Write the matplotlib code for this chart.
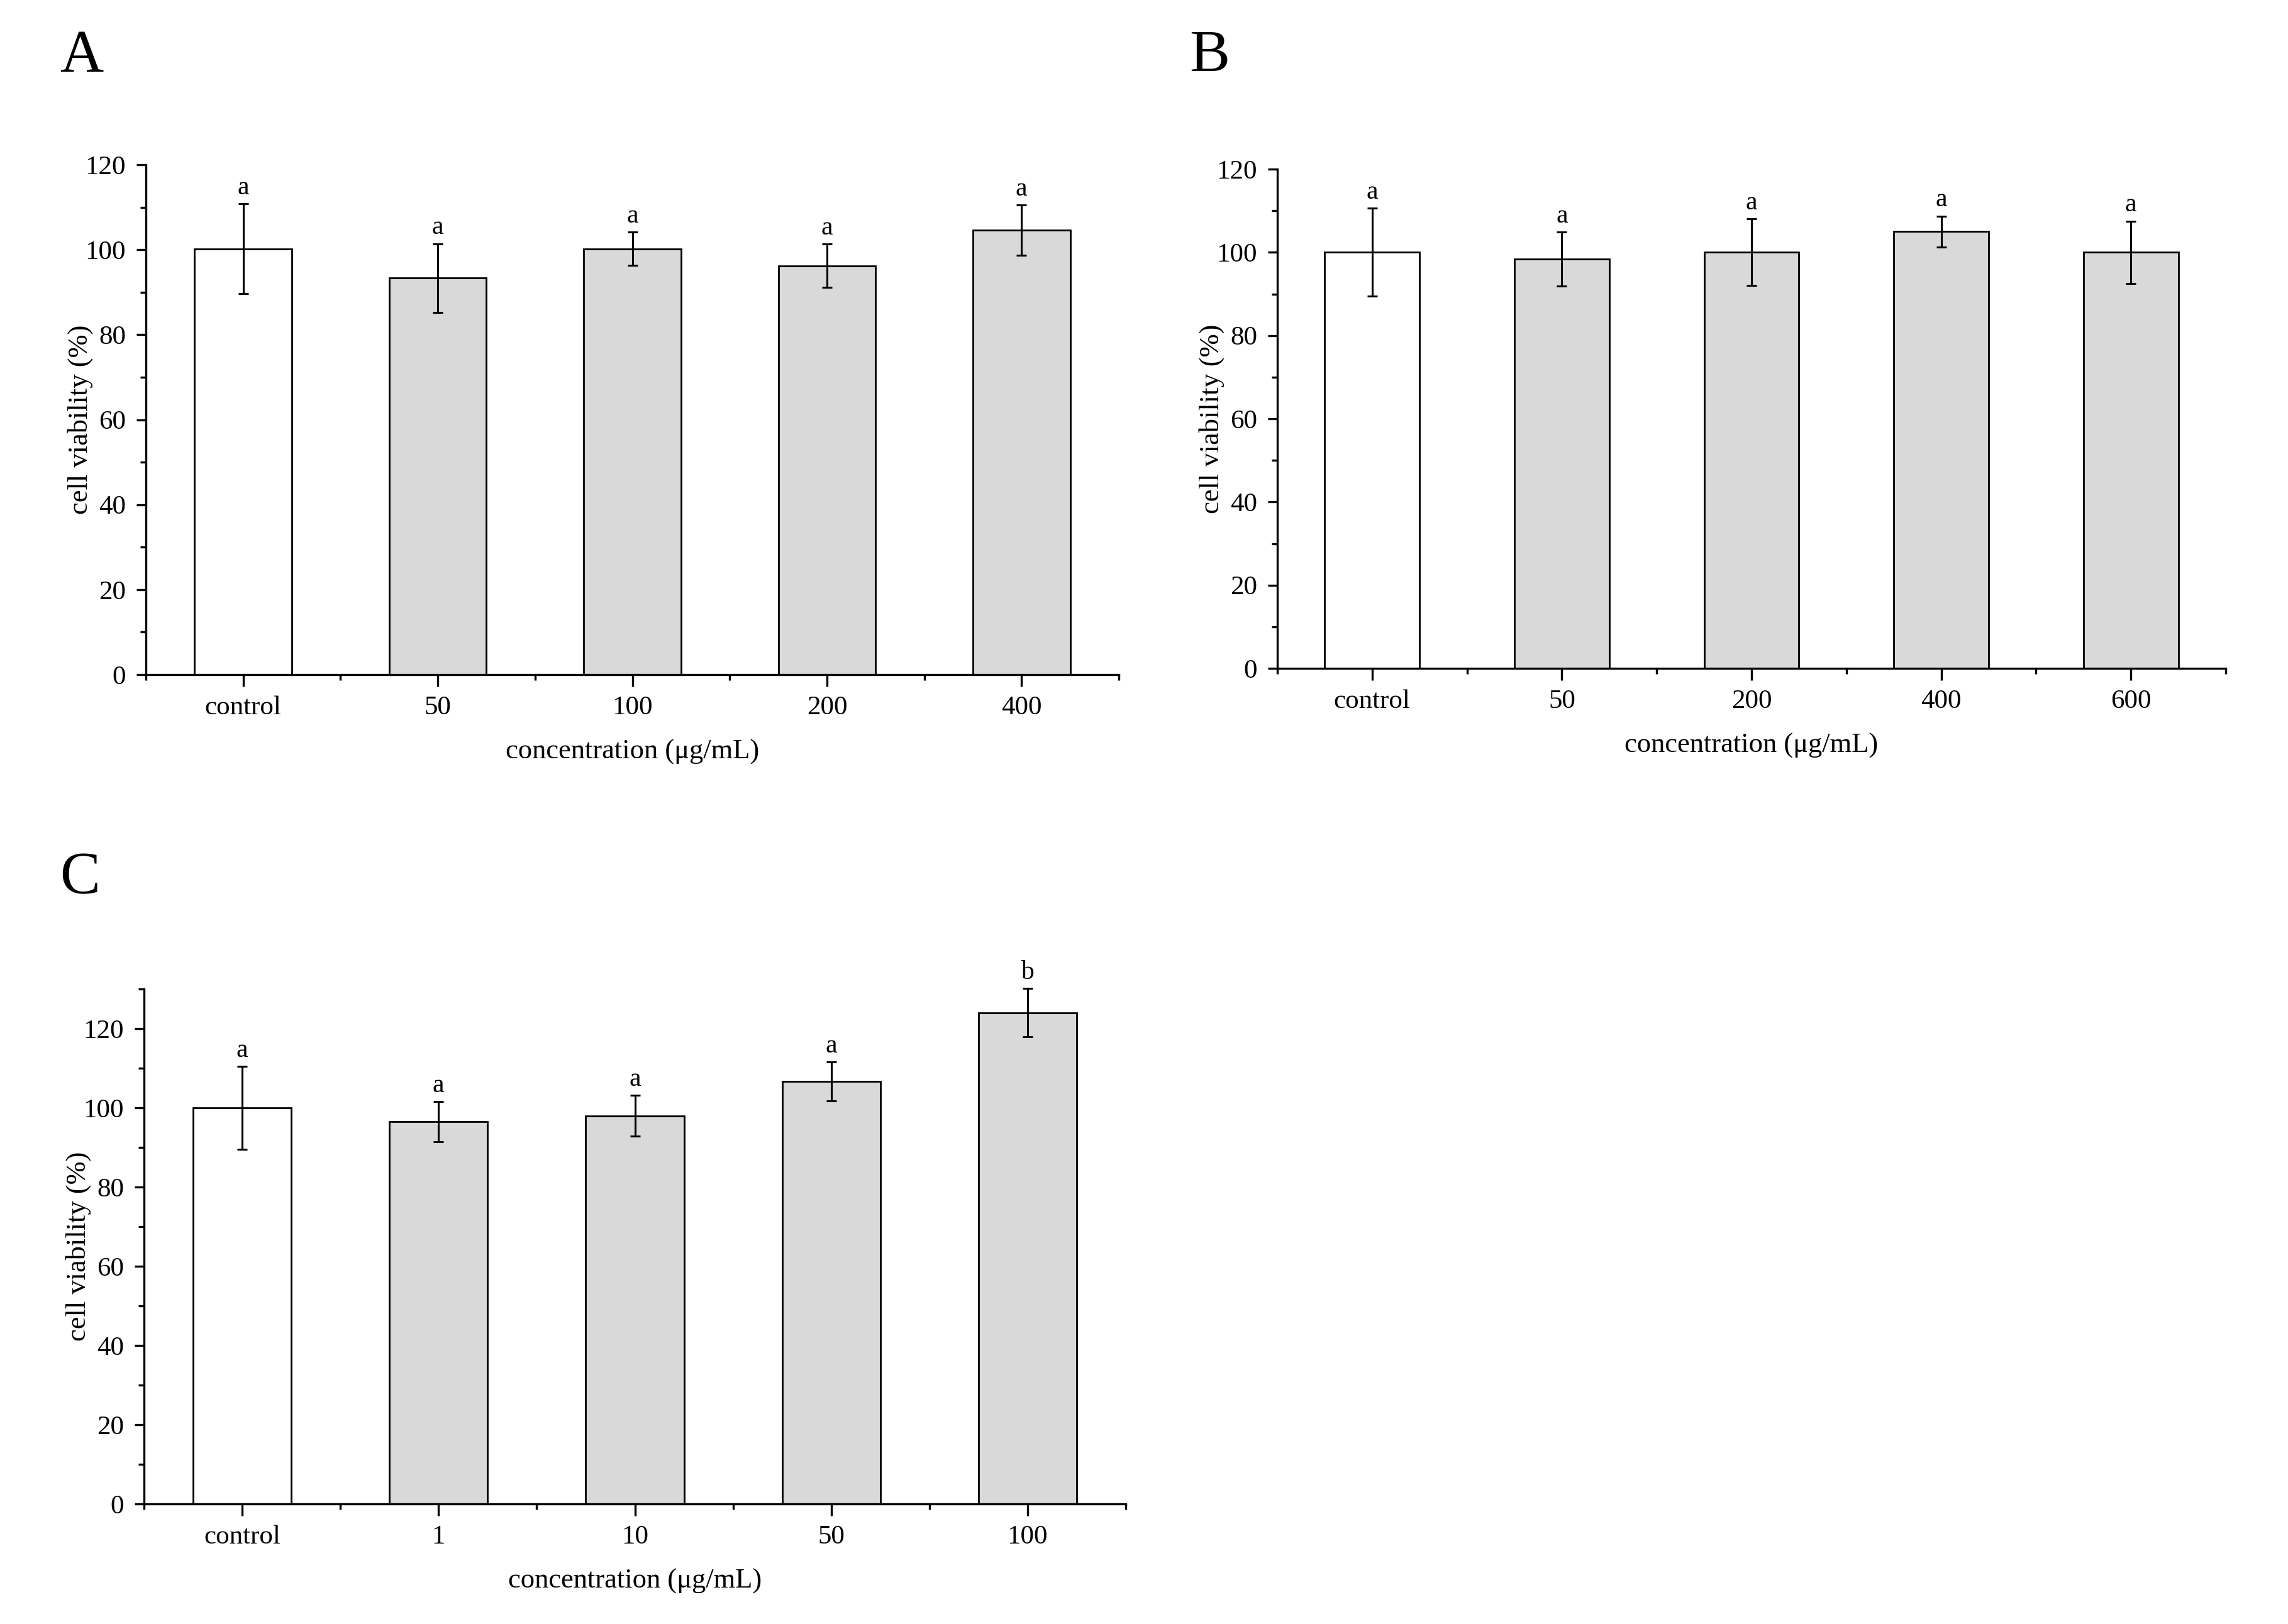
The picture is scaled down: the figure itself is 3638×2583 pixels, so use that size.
import matplotlib
matplotlib.use("Agg")
import matplotlib.pyplot as plt
from matplotlib.ticker import MultipleLocator, FixedLocator

plt.rcParams['font.family'] = ['Liberation Serif', 'DejaVu Serif']

# panel A
labels_a = ["control", "50", "100", "200", "400"]
means_a = [100.2, 93.3, 100.2, 96.2, 104.6]
errs_a = [10.6, 8.1, 3.9, 5.1, 5.9]
sig_a = ["a", "a", "a", "a", "a"]

# panel B
labels_b = ["control", "50", "200", "400", "600"]
means_b = [100.0, 98.4, 100.0, 105.0, 100.0]
errs_b = [10.6, 6.5, 8.0, 3.7, 7.5]
sig_b = ["a", "a", "a", "a", "a"]

# panel C
labels_c = ["control", "1", "10", "50", "100"]
means_c = [100.0, 96.5, 98.0, 106.7, 124.0]
errs_c = [10.5, 5.1, 5.2, 4.9, 6.1]
sig_c = ["a", "a", "a", "a", "b"]

W, H = 3638, 2583
fig = plt.figure(figsize=(W / 100, H / 100), dpi=100)

TICK_FS = 31
LABEL_FS = 32


def draw_panel(box, labels, means, errs, sig, ymax, letter, letter_xy):
    # box = (left, right, top, bottom) in pixels
    l, r, t, b = box
    ax = fig.add_axes([l / W, 1 - b / H, (r - l) / W, (b - t) / H])
    x = list(range(len(labels)))
    colors = ["white"] + ["#d9d9d9"] * (len(labels) - 1)
    ax.bar(x, means, width=0.5, color=colors, edgecolor="black", linewidth=2.0, zorder=2)
    eb = ax.errorbar(x, means, yerr=errs, fmt="none", ecolor="black", elinewidth=2.2,
                     capsize=5.8, capthick=2.2, zorder=3)
    for art in eb.lines[1] + eb.lines[2]:
        art.set_clip_on(False)
    for xi, m, e, s in zip(x, means, errs, sig):
        ax.annotate(s, (xi, m + e), xytext=(0, 11), textcoords="offset points",
                    ha="center", va="baseline", fontsize=30, annotation_clip=False)

    ax.set_xlim(-0.5, len(labels) - 0.5)
    ax.set_ylim(0, ymax)
    ax.set_xticks(x)
    ax.set_xticklabels(labels)
    ax.xaxis.set_minor_locator(FixedLocator([i - 0.5 for i in range(len(labels) + 1)]))
    ax.yaxis.set_major_locator(FixedLocator(list(range(0, 121, 20))))
    ax.yaxis.set_minor_locator(MultipleLocator(10))

    for side in ["top", "right"]:
        ax.spines[side].set_visible(False)
    for side in ["left", "bottom"]:
        ax.spines[side].set_linewidth(2.4)

    ax.tick_params(which="both", direction="out", width=2.4, labelsize=TICK_FS)
    ax.tick_params(axis="x", which="major", length=14, pad=10)
    ax.tick_params(axis="y", which="major", length=11, pad=12)
    ax.tick_params(which="minor", length=6.5)

    ax.set_xlabel("concentration (μg/mL)", fontsize=LABEL_FS, labelpad=22)
    ax.set_ylabel("cell viability (%)", fontsize=32, labelpad=-9)

    fig.text(letter_xy[0] / W, 1 - letter_xy[1] / H, letter, fontsize=69,
             ha="left", va="baseline")
    return ax


draw_panel((232, 1779, 262, 1073), labels_a, means_a, errs_a, sig_a, 120, "A", (95, 114))
draw_panel((2031, 3539, 269, 1063), labels_b, means_b, errs_b, sig_b, 120, "B", (1891, 114))
draw_panel((229, 1790, 1573, 2392), labels_c, means_c, errs_c, sig_c, 130, "C", (95, 1421))

fig.savefig("out.png", dpi=100, facecolor="white")
